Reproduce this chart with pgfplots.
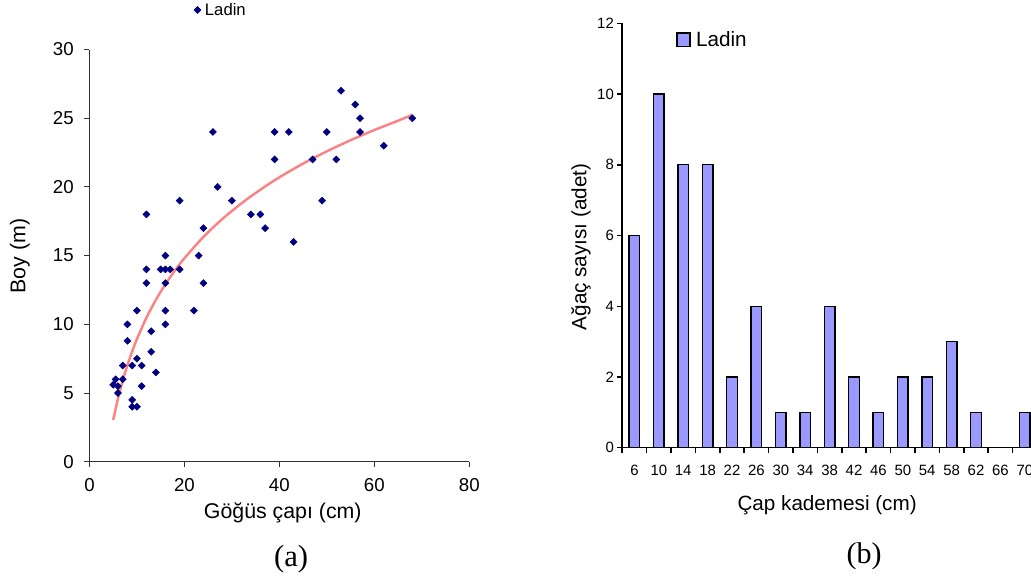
\documentclass[border=0pt]{standalone}
\usepackage{fontspec}
\setmainfont{Liberation Sans}
\newfontfamily\timesfont{Liberation Serif}
\usepackage{pgfplots}
\pgfplotsset{compat=1.18}
\definecolor{navy}{HTML}{000080}
\definecolor{trend}{HTML}{FF8080}
\definecolor{barfill}{HTML}{9999FF}

\begin{document}
\begin{tikzpicture}
\path[use as bounding box] (0,0) rectangle (773.25pt,433.5pt);
\clip (0,0) rectangle (773.25pt,433.5pt);
% ---------------- (a) scatter ----------------
\begin{axis}[
  at={(67.1pt,87.2pt)}, anchor=south west,
  scale only axis, width=284.85pt, height=309.15pt,
  xmin=0, xmax=80, ymin=0, ymax=30,
  xtick={0,20,40,60,80}, ytick={0,5,10,15,20,25,30},
  axis x line=bottom, axis y line=left,
  axis line style={-, black!80, line width=0.75pt},
  x axis line style={-}, y axis line style={-},
  tick style={black!80, line width=0.75pt},
  tick align=outside, major tick length=3.75pt,
  ticklabel style={font=\fontsize{14}{16}\selectfont},
  xticklabel style={yshift=-5pt},
  yticklabel style={xshift=-4.5pt},
  /pgf/number format/assume math mode=true,
  xlabel={Göğüs çapı (cm)}, ylabel={Boy (m)},
  label style={font=\fontsize{16}{19}\selectfont},
  xlabel style={at={(axis description cs:0.509,-0.1245)}, anchor=center},
  ylabel style={at={(axis description cs:-0.183,0.499)}, anchor=center},
  legend style={draw=none, fill=none, at={(axis description cs:0.264,1.096)}, anchor=west, font=\fontsize{12.5}{15}\selectfont},
  legend image code/.code={\draw plot coordinates {(0cm,0cm)};},
  clip=false,
]
\addplot[only marks, mark=square*, mark size=1.85pt, mark options={rotate=45}, color=navy] coordinates {
(26,24)(39,24)(39,22)(27,20)(30,19)(12,18)(19,19)(34,18)(36,18)(37,17)(24,17)
(16,15)(23,15)(12,14)(15,14)(16,14)(17,14)(19,14)(12,13)(16,13)(24,13)
(10,11)(16,11)(22,11)(8,10)(16,10)(13,9.5)(8,8.8)(13,8)(10,7.5)(7,7)(9,7)(11,7)
(14,6.5)(5.5,6)(7,6)(5,5.6)(6,5.5)(11,5.5)(6,5)(9,4.5)(9,4)(10,4)
(53,27)(56,26)(57,25)(42,24)(50,24)(57,24)(68,25)(62,23)(47,22)(52,22)(49,19)(43,16)
};
\addlegendentry{\hspace{1pt}Ladin}
\addplot[trend, line width=1.8pt, smooth, no marks, forget plot] coordinates {
(5,3.04)(6,4.59)(7,5.90)(8,7.03)(9,8.03)(10,8.93)(12,10.48)(14,11.79)(16,12.92)
(18,13.92)(20,14.81)(24,16.36)(28,17.67)(32,18.80)(36,19.80)(40,20.70)(45,21.70)
(50,22.59)(55,23.40)(60,24.14)(65,24.82)(68,25.25)
};
\node at (axis description cs:0.531,-0.236) {\timesfont\fontsize{23}{27}\selectfont (a)};
\end{axis}
% ---------------- (b) bars ----------------
\begin{axis}[
  at={(466.65pt,97.7pt)}, anchor=south west,
  scale only axis, width=311.1pt, height=318.3pt,
  xmin=-0.5, xmax=16.5, ymin=0, ymax=12,
  ytick={0,2,4,6,8,10,12},
  xtick={-0.5,0.5,...,16.5}, x tick label as interval,
  xticklabels={6,10,14,18,22,26,30,34,38,42,46,50,54,58,62,66,70},
  axis x line=bottom, axis y line=left,
  axis line style={-, black, line width=1.1pt},
  x axis line style={-}, y axis line style={-},
  tick style={black, line width=1.1pt},
  tick align=outside, major tick length=3.75pt,
  ticklabel style={font=\fontsize{11.2}{13}\selectfont},
  xticklabel style={yshift=-6pt},
  yticklabel style={xshift=1pt},
  /pgf/number format/assume math mode=true,
  xlabel={Çap kademesi (cm)}, ylabel={Ağaç sayısı (adet)},
  label style={font=\fontsize{15.5}{18}\selectfont},
  xlabel style={at={(axis description cs:0.494,-0.135)}, anchor=center},
  ylabel style={at={(axis description cs:-0.0993,0.473)}, anchor=center},
  legend style={draw=none, fill=none, at={(axis description cs:0.12,0.961)}, anchor=west, font=\fontsize{15.5}{18}\selectfont},
  ybar, bar width=7.9pt, bar shift=0pt,
  clip=false,
]
\addplot[fill=barfill, draw=black, line width=1pt,
  legend image code/.code={\draw[fill=barfill, draw=black, line width=1.1pt] (0pt,-5pt) rectangle (9.75pt,5pt);}] coordinates {
(0,6)(1,10)(2,8)(3,8)(4,2)(5,4)(6,1)(7,1)(8,4)(9,2)(10,1)(11,2)(12,2)(13,3)(14,1)(16,1)
};
\addlegendentry{\hspace{2pt}Ladin}
\node at (axis description cs:0.583,-0.255) {\timesfont\fontsize{22.5}{27}\selectfont (b)};
\end{axis}
\end{tikzpicture}
\end{document}
